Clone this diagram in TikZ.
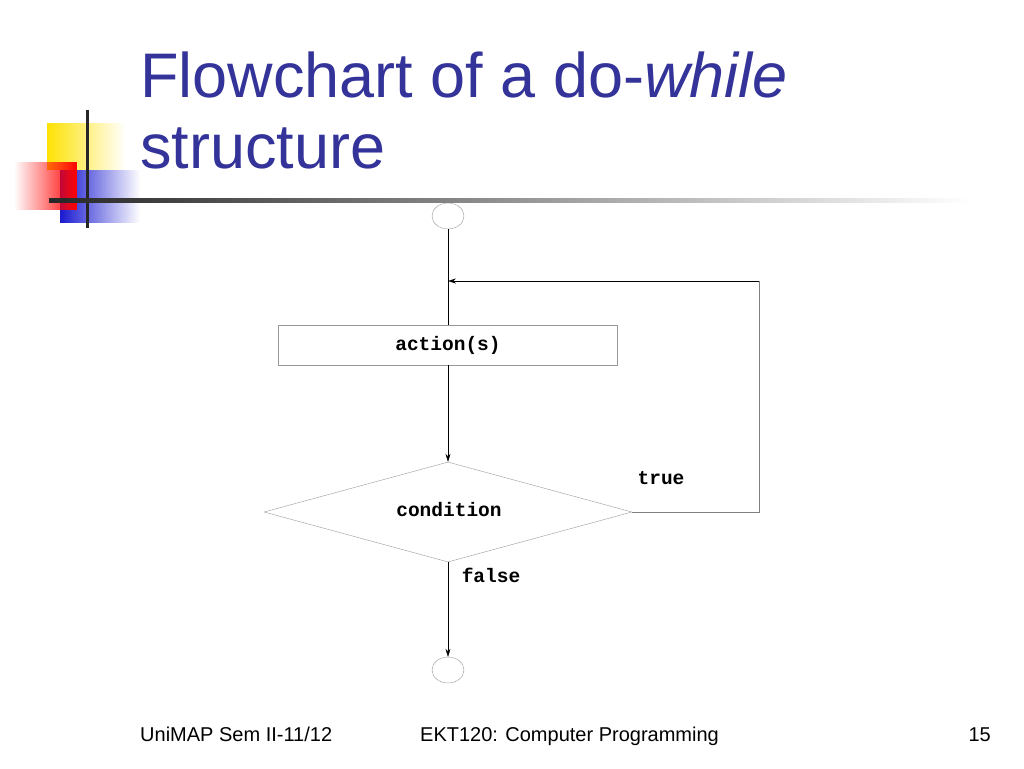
\documentclass[tikz,border=0pt]{standalone}
\usepackage{fontspec}
\setmainfont{Liberation Sans}
\newfontfamily\codefont{Liberation Mono}
\usetikzlibrary{positioning,shapes.geometric,arrows.meta,fadings}
\definecolor{titleblue}{RGB}{51,51,153}
\tikzset{
  flowbox/.style={draw=gray!80,minimum width=339pt,minimum height=40pt,font=\codefont\bfseries\fontsize{19.5}{22}\selectfont},
  decision/.style={diamond,draw=gray!80,minimum width=368pt,minimum height=100pt,inner sep=0pt,aspect=3.68},
  terminal/.style={ellipse,draw=gray!80,minimum width=32pt,minimum height=26pt,inner sep=0pt},
  flowlabel/.style={font=\codefont\bfseries\fontsize{19.5}{22}\selectfont},
  footer/.style={font=\fontsize{20}{22}\selectfont,anchor=base west,inner sep=0pt},
  titletext/.style={anchor=base west,inner sep=0pt,text=titleblue,font=\fontsize{63}{63}\selectfont}
}
\begin{document}
\begin{tikzpicture}[x=1pt,y=-1pt,>={Stealth[length=8pt,width=5pt]}]
  \useasboundingbox (0,0) rectangle (1024,768);
  % corner decoration
  \fill[yellow!85!orange,path fading=east] (47,123) rectangle (125,170);
  \fill[blue!80!black!90,path fading=east] (60,170) rectangle (140,223);
  \fill[red,path fading=west] (14,162) rectangle (77,210);
  \draw[line width=3pt,black!85] (87,110) -- (87,228);
  \shade[left color=black!85,right color=white] (49,198) rectangle (970,202);
  % title
  \node[titletext] (title1) at (140,97) {Flowchart of a do-\textit{while}};
  \node[titletext] (title2) at (140,168) {structure};
  % flowchart
  \node[terminal] (start) at (448,216) {};
  \node[flowbox] (action) at (448,345) {action(s)};
  \node[decision] (cond) at (448,512) {};
  \node[flowlabel] (condtext) at (449,510) {condition};
  \node[terminal] (stop) at (448,670) {};
  \coordinate (join) at (448,281);
  \coordinate (loopdown) at (759,512);
  \coordinate (loopup) at (759,281);
  \draw (start) -- (action);
  \draw[->] (action) -- (cond);
  \draw[->] (cond) -- (stop);
  \draw[gray] (cond.east) -- (loopdown) -- (loopup);
  \draw[->] (loopup) -- (join);
  \node[flowlabel] (truelbl) at (661,478) {true};
  \node[flowlabel] (falselbl) at (491,575) {false};
  % footer
  \node[footer] (f1) at (140,741) {UniMAP Sem II-11/12};
  \node[footer] (f2) at (420,741) {EKT120: Computer Programming};
  \node[footer,anchor=base east] (f3) at (991,741) {15};
\end{tikzpicture}
\end{document}
